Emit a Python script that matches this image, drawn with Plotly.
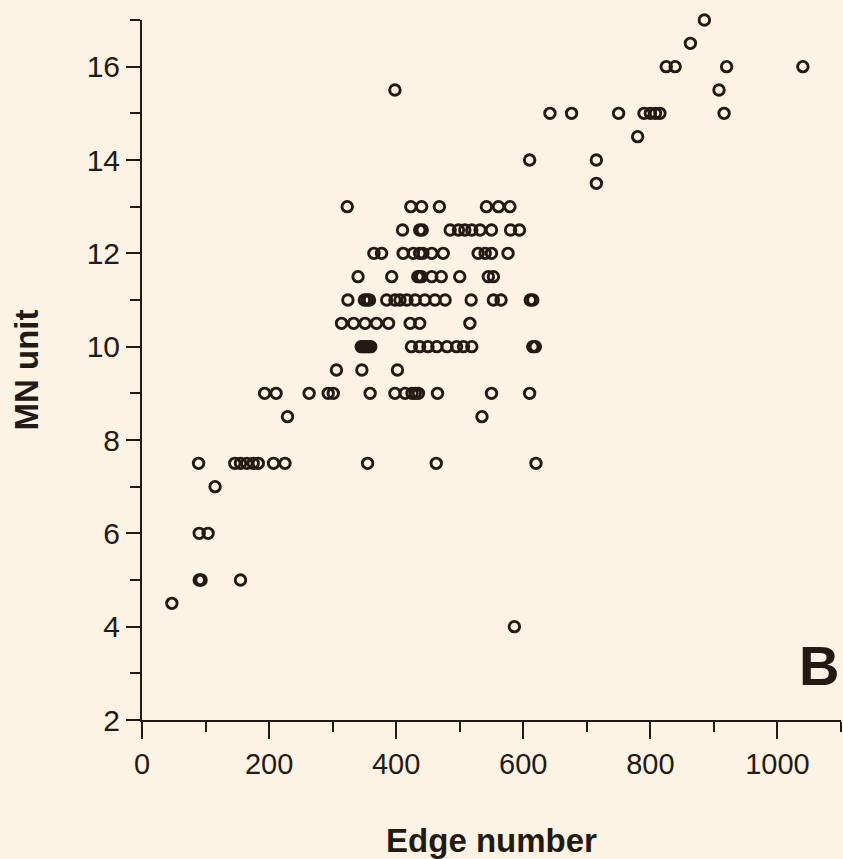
import plotly.graph_objects as go

# Edge number vs. motoneuron (MN) unit, grouped by MN level
edge_number = [
    885,
    863,
    825, 839, 920, 1040,
    398, 908,
    642, 676, 750, 790, 800, 808, 815, 916,
    780,
    610, 715,
    715,
    323, 423, 440, 468, 542, 561, 579,
    410, 437, 441, 485, 498, 508, 519, 532, 550, 580, 594,
    365, 377, 411, 427, 437, 442, 456, 474, 529, 540, 550, 576,
    340, 393, 434, 437, 440, 456, 471, 500, 545, 553,
    324, 350, 354, 358, 385, 398, 406, 417, 430, 445, 461, 477, 518, 553, 565, 611, 615,
    314, 333, 351, 369, 388, 422, 437, 516,
    345, 348, 351, 354, 357, 360, 424, 437, 450, 464, 480, 495, 506, 519, 615, 619,
    306, 346, 402,
    193, 211, 263, 293, 301, 359, 398, 414, 425, 430, 435, 465, 550, 610,
    229, 535,
    89, 146, 155, 165, 175, 183, 207, 225, 355, 463, 620,
    115,
    90, 104,
    90, 93, 155,
    47,
    586,
]
mn_unit = (
    [17] * 1
    + [16.5] * 1
    + [16] * 4
    + [15.5] * 2
    + [15] * 8
    + [14.5] * 1
    + [14] * 2
    + [13.5] * 1
    + [13] * 7
    + [12.5] * 11
    + [12] * 12
    + [11.5] * 10
    + [11] * 17
    + [10.5] * 8
    + [10] * 16
    + [9.5] * 3
    + [9] * 14
    + [8.5] * 2
    + [7.5] * 11
    + [7] * 1
    + [6] * 2
    + [5] * 3
    + [4.5] * 1
    + [4] * 1
)

x_ticks = [0, 200, 400, 600, 800, 1000]
y_ticks = [2, 4, 6, 8, 10, 12, 14, 16]

INK = "#231a15"
PAPER = "#fcf3e4"
FONT = "Liberation Sans, Arial, Helvetica, sans-serif"

fig = go.Figure(
    go.Scatter(
        x=edge_number,
        y=mn_unit,
        mode="markers",
        marker=dict(symbol="circle-open", size=10.5, color=INK, line=dict(width=2.9, color=INK)),
        cliponaxis=False,
        hoverinfo="x+y",
    )
)

fig.update_layout(
    width=843,
    height=859,
    margin=dict(l=142, r=2, t=20, b=139),
    paper_bgcolor=PAPER,
    plot_bgcolor=PAPER,
    showlegend=False,
    font=dict(family=FONT, color=INK),
)

fig.update_xaxes(
    range=[0, 1100],
    tickvals=x_ticks,
    ticks="outside",
    ticklen=17,
    tickwidth=2,
    tickcolor=INK,
    minor=dict(dtick=100, tick0=0, ticks="outside", ticklen=10, tickwidth=2, tickcolor=INK),
    showline=True,
    linecolor=INK,
    linewidth=2,
    showgrid=False,
    zeroline=False,
    tickfont=dict(size=29, family=FONT, color=INK),
    title=dict(text="<b>Edge number</b>", font=dict(size=33, family=FONT, color=INK), standoff=52),
)

fig.update_yaxes(
    range=[2, 17],
    tickvals=y_ticks,
    ticks="outside",
    ticklen=14,
    tickwidth=2,
    tickcolor=INK,
    minor=dict(dtick=1, tick0=0, ticks="outside", ticklen=10, tickwidth=2, tickcolor=INK),
    showline=True,
    linecolor=INK,
    linewidth=2,
    showgrid=False,
    zeroline=False,
    tickfont=dict(size=30, family=FONT, color=INK),
    title=dict(text="<b>MN unit</b>", font=dict(size=33, family=FONT, color=INK), standoff=38),
)

fig.add_annotation(
    x=1.0, y=0.03, xref="paper", yref="paper",
    xanchor="right", yanchor="bottom",
    text="<b>B</b>", showarrow=False,
    font=dict(size=56, family=FONT, color=INK),
)

fig.write_html("out.html")
